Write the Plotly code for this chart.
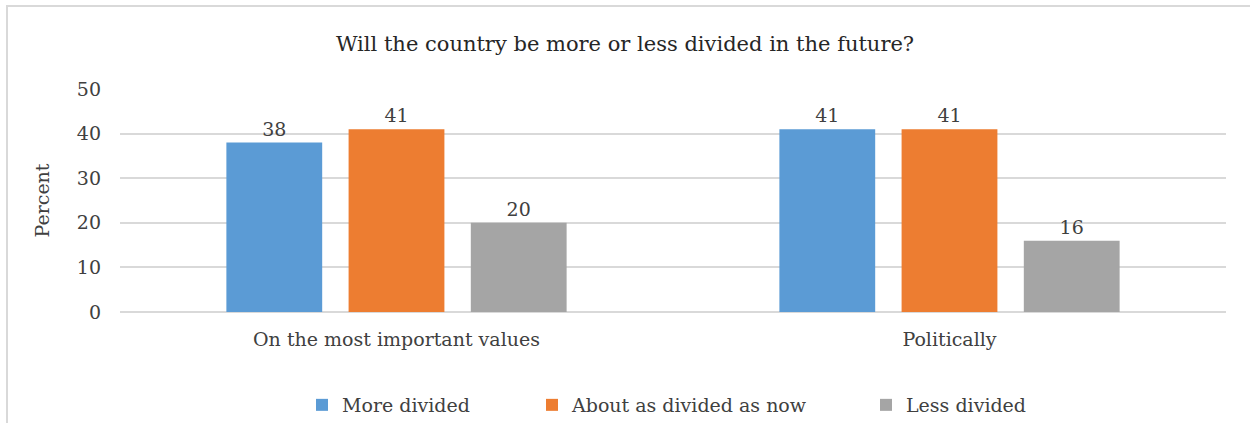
import plotly.graph_objects as go

categories = ["On the most important values", "Politically"]
series_names = ["More divided", "About as divided as now", "Less divided"]
more_divided = [38, 41]
about_as_divided = [41, 41]
less_divided = [20, 16]
colors = ["#5B9BD5", "#ED7D31", "#A5A5A5"]
y_ticks = [0, 10, 20, 30, 40, 50]

FONT = "DejaVu Serif"
TXT = "#404040"
W, H = 1250, 423
L, R, T, B = 120, 24, 89, 111

# one legend per series so the entries can sit at their own spots
legend_ids = ["legend", "legend2", "legend3"]
legend_x = [302, 532, 866]

fig = go.Figure()
for name, vals, col, lg in zip(series_names, [more_divided, about_as_divided, less_divided], colors, legend_ids):
    fig.add_trace(go.Bar(
        x=categories, y=vals, name=name, legend=lg,
        marker=dict(color=col, line=dict(width=0)),
        text=[str(v) for v in vals], textposition="outside",
        textfont=dict(family=FONT, size=19, color=TXT), cliponaxis=False,
    ))

# outer chart border
pw, ph = W - L - R, H - T - B
fig.add_shape(type="rect", xref="paper", yref="paper",
              x0=(7 - L) / pw, x1=(W + 5 - L) / pw,
              y0=-(H + 5 - T - ph) / ph, y1=1 + (T - 6) / ph,
              line=dict(color="#D9D9D9", width=2), layer="below")

legend_common = dict(orientation="h", xref="container", yref="container", xanchor="left",
                     y=1 - 405 / H, yanchor="middle", itemwidth=30,
                     font=dict(family=FONT, size=19, color=TXT))
fig.update_layout(
    width=W, height=H, margin=dict(l=L, r=R, t=T, b=B),
    paper_bgcolor="white", plot_bgcolor="white",
    font=dict(family=FONT, size=19, color=TXT),
    title=dict(text="Will the country be more or less divided in the future?",
               x=0.5, xref="container", xanchor="center", y=1 - 44 / H, yanchor="middle",
               font=dict(family=FONT, size=21, color="#262626")),
    barmode="group", bargap=0.337, bargroupgap=0.216,
    legend=dict(x=legend_x[0] / W, **legend_common),
    legend2=dict(x=legend_x[1] / W, **legend_common),
    legend3=dict(x=legend_x[2] / W, **legend_common),
    showlegend=True,
)
fig.update_yaxes(range=[0, 50], tickvals=y_ticks, showgrid=True, gridcolor="#D9D9D9", gridwidth=2,
                 zeroline=True, zerolinecolor="#D9D9D9", zerolinewidth=2, showline=False,
                 ticks="", ticklabelstandoff=18,
                 title=dict(text="Percent", font=dict(family=FONT, size=19, color=TXT), standoff=22))
fig.update_xaxes(showline=False, ticks="", showgrid=False, ticklabelstandoff=14)

fig.write_html("out.html")
